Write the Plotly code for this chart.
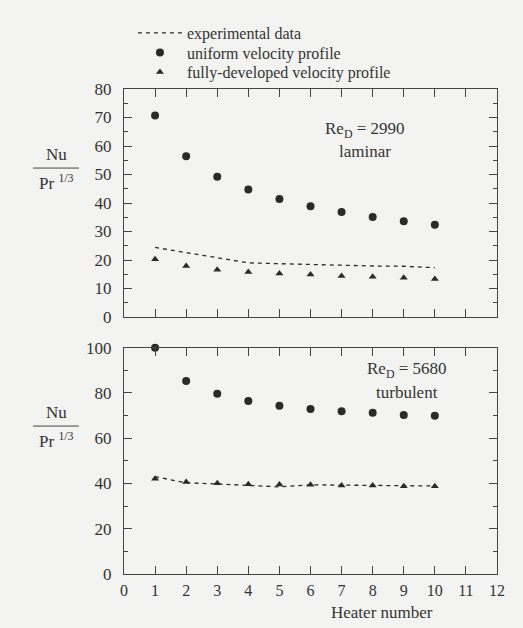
import plotly.graph_objects as go
from plotly.subplots import make_subplots

heater = [1, 2, 3, 4, 5, 6, 7, 8, 9, 10]

# Re_D = 2990 (laminar)
lam_uniform = [70.7, 56.4, 49.2, 44.7, 41.4, 38.9, 36.8, 35.1, 33.6, 32.4]
lam_fully = [20.3, 17.9, 16.6, 15.8, 15.3, 14.9, 14.4, 14.1, 13.8, 13.3]
lam_exp = [24.4, 22.6, 20.9, 19.0, 18.7, 18.4, 18.0, 17.9, 17.8, 17.3]

# Re_D = 5680 (turbulent)
turb_uniform = [100.0, 85.3, 79.6, 76.5, 74.4, 72.9, 71.9, 71.2, 70.3, 69.9]
turb_fully = [42.1, 40.6, 40.1, 39.7, 39.6, 39.4, 39.1, 39.1, 38.8, 38.8]
turb_exp = [43.0, 40.3, 39.8, 39.3, 38.5, 39.4, 39.2, 39.2, 39.1, 38.9]

x_ticks = list(range(0, 13))

FONT = "Liberation Serif, Times New Roman, DejaVu Serif, serif"
INK = "#2a2a2a"
BG = "#f3f3f1"
FS = 17

fig = make_subplots(rows=2, cols=1, shared_xaxes=False, vertical_spacing=0.0)

def add_panel(row, exp, uni, fully, show):
    fig.add_trace(go.Scatter(x=heater, y=exp, mode="lines", name="experimental data",
                             line=dict(color=INK, width=1.3, dash="4px,4px"),
                             showlegend=show, legend="legend", cliponaxis=False), row=row, col=1)
    fig.add_trace(go.Scatter(x=heater, y=uni, mode="markers", name="uniform velocity profile",
                             marker=dict(symbol="circle", size=8, color=INK),
                             showlegend=show, legend="legend2", cliponaxis=False), row=row, col=1)
    fig.add_trace(go.Scatter(x=heater, y=fully, mode="markers", name="fully-developed velocity profile",
                             marker=dict(symbol="triangle-up", size=7, color=INK),
                             showlegend=show, legend="legend3", cliponaxis=False), row=row, col=1)

add_panel(1, lam_exp, lam_uniform, lam_fully, True)
add_panel(2, turb_exp, turb_uniform, turb_fully, False)

axis_common = dict(showline=True, linecolor="#444", linewidth=1.2, mirror="allticks",
                   ticks="inside", tickcolor="#444", ticklen=8, tickwidth=1,
                   showgrid=False, zeroline=False,
                   tickfont=dict(family=FONT, size=FS, color="#333"))

fig.update_xaxes(**axis_common, range=[0, 12], tickvals=x_ticks)
fig.update_xaxes(showticklabels=False, row=1, col=1)
fig.update_xaxes(ticktext=[str(t) for t in x_ticks], ticklabelstandoff=2,
                 tickfont=dict(family=FONT, size=16, color="#333"), row=2, col=1)

fig.update_yaxes(**axis_common, ticklabelstandoff=8)
fig.update_yaxes(range=[0, 80], dtick=10, row=1, col=1,
                 minor=dict(dtick=5, ticks="inside", ticklen=4, tickcolor="#444", showgrid=False))
fig.update_yaxes(range=[0, 100], dtick=20, row=2, col=1,
                 minor=dict(dtick=10, ticks="inside", ticklen=4, tickcolor="#444", showgrid=False))

fig.layout.yaxis.domain = [0.5299, 1.0]
fig.layout.yaxis2.domain = [0.0, 0.4666]

ann_font = dict(family=FONT, size=FS, color="#333")
C = dict(showarrow=False, font=ann_font, xanchor="center", yanchor="middle")
annotations = [
    dict(x=7.75, y=65.6, xref="x", yref="y", text="Re<sub>D</sub> = 2990", **C),
    dict(x=7.75, y=57.9, xref="x", yref="y", text="laminar", **C),
    dict(x=9.1, y=90.1, xref="x2", yref="y2", text="Re<sub>D</sub> = 5680", **C),
    dict(x=9.1, y=80.4, xref="x2", yref="y2", text="turbulent", **C),
    dict(x=8.3, y=-0.0784, xref="x2", yref="paper", text="Heater number", **C),
]
shapes = []
for y_nu, y_line, y_pr in [(0.864, 0.837, 0.808), (0.332, 0.305, 0.276)]:
    annotations.append(dict(x=-0.182, y=y_nu, xref="paper", yref="paper", text="Nu", **C))
    annotations.append(dict(x=-0.182, y=y_pr, xref="paper", yref="paper",
                            text="Pr <sup>1/3</sup>", **C))
    shapes.append(dict(type="line", xref="paper", yref="paper", x0=-0.244, x1=-0.121,
                       y0=y_line, y1=y_line, line=dict(color="#444", width=1)))

leg_common = dict(x=0.024, xanchor="left", yanchor="middle", bgcolor="rgba(0,0,0,0)",
                  font=dict(family=FONT, size=16, color="#333"), itemwidth=44)

fig.update_layout(
    width=523, height=628,
    margin=dict(l=124, r=26, t=89, b=54),
    paper_bgcolor=BG, plot_bgcolor=BG,
    font=dict(family=FONT, size=FS, color="#333"),
    showlegend=True,
    legend=dict(y=1.1155, **leg_common),
    legend2=dict(y=1.0753, **leg_common),
    legend3=dict(y=1.0351, **leg_common),
    annotations=annotations,
    shapes=shapes,
)

fig.write_html("out.html")
